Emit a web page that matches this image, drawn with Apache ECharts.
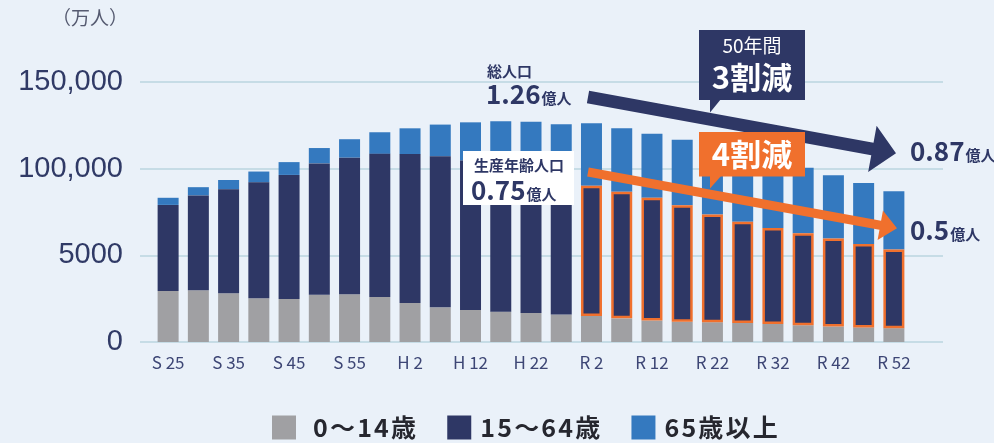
<!DOCTYPE html>
<html>
<head>
<meta charset="utf-8">
<script src="https://cdn.jsdelivr.net/npm/echarts@6/dist/echarts.min.js"></script>
<style>
body{margin:0;background:#eaf1f9;}
#main{width:994px;height:443px;}
</style>
</head>
<body>
<div id="main"></div>
<script>
// 年次（国勢調査・将来推計）
var years = ['S 25','S 30','S 35','S 40','S 45','S 50','S 55','S 60',
	'H 2','H 7','H 12','H 17','H 22','H 27',
	'R 2','R 7','R 12','R 17','R 22','R 27','R 32','R 37','R 42','R 47','R 52'];
// 万人
var age0to14 = [2943,2980,2807,2517,2482,2722,2751,2603,2249,2001,1847,1752,1680,1589,
	1503,1363,1240,1169,1142,1103,1041,966,893,842,797];
var age15to64 = [4966,5473,6000,6693,7157,7581,7883,8251,8590,8716,8622,8409,8103,7629,
	7509,7310,7076,6722,6213,5832,5540,5307,5078,4809,4535];
var age65over = [411,479,540,624,739,887,1065,1247,1489,1826,2204,2576,2925,3347,
	3603,3653,3696,3773,3929,3945,3888,3777,3644,3529,3367];
var yTickLabels = ['0','5000','100,000','150,000'];
var seriesNames = ['0～14歳','15～64歳','65歳以上'];
var colors = ['#a0a0a3','#2e3765','#3479bf'];
var orange = '#f0702d';
var navy = '#2e3765';
var projStart = 14; // R2から枠線

var jp = '"Noto Sans CJK JP"';

function arrowPoints(x0,y0,x1,y1,w,hl,hw){
	var dx=x1-x0, dy=y1-y0, len=Math.sqrt(dx*dx+dy*dy);
	var ux=dx/len, uy=dy/len, px=-uy, py=ux;
	var bx=x1-ux*hl, by=y1-uy*hl;
	return [
		[x0+px*w/2, y0+py*w/2],
		[bx+px*w/2, by+py*w/2],
		[bx+px*hw/2, by+py*hw/2],
		[x1, y1],
		[bx-px*hw/2, by-py*hw/2],
		[bx-px*w/2, by-py*w/2],
		[x0-px*w/2, y0-py*w/2]
	];
}

function numText(x, y, num, color){
	return {
		type:'text', x:x, y:y, z:110,
		style:{
			text:'{n|'+num+'}{u|億人}',
			align:'left', verticalAlign:'bottom',
			rich:{
				n:{fontSize:26, fontWeight:'bold', fontFamily:jp, fill:color, verticalAlign:'bottom'},
				u:{fontSize:15, fontWeight:'bold', fontFamily:jp, fill:color, verticalAlign:'bottom', padding:[0,0,1,1]}
			}
		}
	};
}

var chart = echarts.init(document.getElementById('main'));

var midData = age15to64.map(function(v, i){
	if (i >= projStart) {
		return {value:v, itemStyle:{borderColor:orange, borderWidth:2.5}};
	}
	return v;
});

var legendChar = {fontSize:25, fontWeight:'bold', fontFamily:jp, color:'#26272f', lineHeight:24, padding:[0,2.2,0,0]};

var option = {
	backgroundColor:'#eaf1f9',
	animation:false,
	grid:[
		{left:140, right:51, top:82, bottom:101},
		{left:153, right:85, top:82, bottom:101}
	],
	xAxis:[
		{gridIndex:0, type:'value', min:0, max:1, show:false},
		{
			gridIndex:1, type:'category', data:years,
			axisLine:{show:false}, axisTick:{show:false},
			axisLabel:{interval:1, margin:12, fontSize:17, fontFamily:jp, color:'#3d4675'}
		}
	],
	yAxis:[
		{
			gridIndex:0, type:'value', min:0, max:15000, interval:5000,
			axisLine:{show:false}, axisTick:{show:false},
			splitLine:{lineStyle:{color:'#c6dce6', width:2}},
			axisLabel:{
				margin:17, fontSize:29, fontFamily:'"Liberation Sans"', color:'#303a66',
				formatter:function(v){ return yTickLabels[Math.round(v/5000)]; }
			}
		},
		{gridIndex:1, type:'value', min:0, max:15000, show:false}
	],
	legend:{
		data:seriesNames,
		left:272, top:415, padding:0,
		itemWidth:24, itemHeight:24, itemGap:29,
		icon:'rect',
		formatter:function(n){
			var pre = n === seriesNames[0] ? '{p1|}' : '{p2|}';
			return pre + n.split('').map(function(c){ return '{c|' + c + '}'; }).join('');
		},
		textStyle:{
			fontSize:25, fontWeight:'bold', fontFamily:jp, color:'#26272f',
			rich:{c:legendChar, p1:{width:12, lineHeight:24}, p2:{width:4, lineHeight:24}}
		}
	},
	series:[
		{name:seriesNames[0], type:'bar', stack:'pop', xAxisIndex:1, yAxisIndex:1, barWidth:21,
			itemStyle:{color:colors[0]}, data:age0to14},
		{name:seriesNames[1], type:'bar', stack:'pop', xAxisIndex:1, yAxisIndex:1, barWidth:21, z:3,
			itemStyle:{color:colors[1]}, data:midData},
		{name:seriesNames[2], type:'bar', stack:'pop', xAxisIndex:1, yAxisIndex:1, barWidth:21,
			itemStyle:{color:colors[2]}, data:age65over}
	],
	graphic:[
		{type:'text', x:90, y:18, z:100,
			style:{text:'（万人）', fontSize:19, fontFamily:jp, fill:'#555a70', align:'center', verticalAlign:'middle'}},
		// 総人口
		{type:'text', x:487, y:71, z:100,
			style:{text:'総人口', fontSize:15, fontWeight:'bold', fontFamily:jp, fill:navy, align:'left', verticalAlign:'middle'}},
		numText(486, 107, '1.26', navy),
		{type:'polygon', z:100, shape:{points:arrowPoints(588,97,896,153.3,12.5,24,47)}, style:{fill:navy}},
		numText(910, 164, '0.87', navy),
		// 50年間 3割減
		{type:'rect', z:101, shape:{x:699, y:30, width:106, height:70}, style:{fill:navy}},
		{type:'polygon', z:101, shape:{points:[[710,99],[721,99],[710,112.5]]}, style:{fill:navy}},
		{type:'text', x:752, y:46, z:102,
			style:{text:'50年間', fontSize:19, fontFamily:jp, fill:'#fff', align:'center', verticalAlign:'middle'}},
		{type:'text', x:752, y:77, z:102,
			style:{text:'3割減', fontSize:31, fontWeight:'bold', fontFamily:jp, fill:'#fff', align:'center', verticalAlign:'middle'}},
		// 生産年齢人口
		{type:'rect', z:100, shape:{x:463, y:151, width:111, height:54}, style:{fill:'#fff'}},
		{type:'text', x:474, y:165, z:101,
			style:{text:'生産年齢人口', fontSize:15, fontWeight:'bold', fontFamily:jp, fill:navy, align:'left', verticalAlign:'middle'}},
		numText(471, 203, '0.75', navy),
		{type:'polygon', z:102, shape:{points:arrowPoints(588,172,897,228.3,9,17,30)}, style:{fill:orange}},
		numText(910, 243, '0.5', navy),
		// 4割減
		{type:'rect', z:103, shape:{x:699, y:132, width:106, height:44.5}, style:{fill:orange}},
		{type:'polygon', z:103, shape:{points:[[710,176],[721,176],[710,188.5]]}, style:{fill:orange}},
		{type:'text', x:752, y:154, z:104,
			style:{text:'4割減', fontSize:31, fontWeight:'bold', fontFamily:jp, fill:'#fff', align:'center', verticalAlign:'middle'}}
	]
};
chart.setOption(option);
</script>
</body>
</html>
